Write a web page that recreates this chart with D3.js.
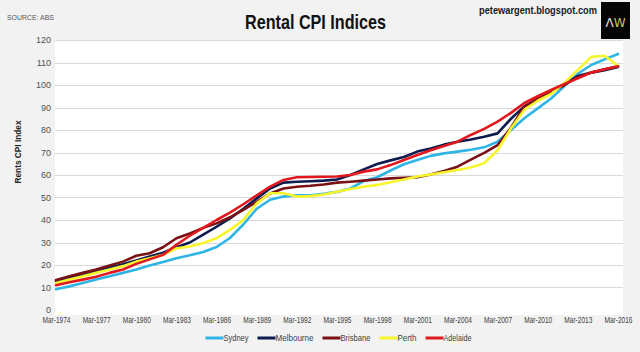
<!DOCTYPE html>
<html>
<head>
<meta charset="utf-8">
<script src="https://cdn.jsdelivr.net/npm/d3@7"></script>
<style>
  html, body { margin: 0; padding: 0; background: #f2f2f2; }
  svg { display: block; }
  .narrow { font-family: "Liberation Sans Narrow", "Arial Narrow", "Liberation Sans", Arial, sans-serif; }
</style>
</head>
<body>
<svg id="chart" width="640" height="352"></svg>
<script>
// ---- data (annual, March quarter) ----
const years = d3.range(1974, 2017);
const tickYears = [1974,1977,1980,1983,1986,1989,1992,1995,1998,2001,2004,2007,2010,2013,2016];
const yTicks = [0,10,20,30,40,50,60,70,80,90,100,110,120];
const seriesNames = ["Sydney","Melbourne","Brisbane","Perth","Adelaide"];
const sydney = [9.2,10.5,12,13.6,15,16.5,18,19.8,21.3,23,24.3,25.8,28,32,38,45,49,50.4,51,51,51.6,52.5,54,57.3,59,62,64.8,66.7,68.5,69.6,70.4,71.2,72.3,74.8,80,85.2,89.6,94,99.5,105,108.9,111.4,113.8];
const melbourne = [12.8,14.3,15.8,17.3,18.8,20.3,22,23.8,25.5,27.9,30,33.5,37,40.7,45,49.6,54,56.6,57,57.2,57.5,58,60,62.5,64.9,66.5,68,70.4,71.8,73.5,74.8,75.8,77,78.5,85,90.5,93.5,96.8,100.3,104,105.5,106.6,108];
const brisbane = [13.3,15,16.5,18,19.8,21.5,24.1,25.2,27.9,31.9,34,36.5,38.5,41.2,44.5,48.1,51.8,54,54.8,55.2,55.8,56.6,57,57.5,58,58.5,58.8,59,60.2,61.8,63.7,66.8,69.8,73.3,81,90.5,94,97,100,103.5,105.5,107,108.3];
const perth = [12,13.5,15,16.5,18,19.5,21.5,23,24.5,27.4,28.2,29.8,31.9,35.6,40,47.4,51.9,51.9,50.4,50.6,51.3,52.6,53.8,54.8,55.6,56.8,58,59.3,60.2,61.2,62.2,63.3,65.2,71,80.7,89,93,96,101,106.7,112.5,113,108.5];
const adelaide = [11,12.3,13.5,14.8,16.5,18,20.5,22.5,24.5,29,33,36.5,40,43.3,47,51,54.8,57.8,59,59.1,59.2,59.3,60,61.5,62.5,64.4,66.7,68.9,71,72.9,74.8,77.8,80.5,83.7,87.6,92,95,97.8,100.5,103,105.5,107,108.3];
const seriesValues = [sydney, melbourne, brisbane, perth, adelaide];
const seriesColors = ["#2fb4e6","#0d1b4e","#7a1114","#f8f52c","#e1191f"];

// ---- layout ----
const svg = d3.select("#chart");
const x = d3.scaleLinear().domain([1974, 2016]).range([56, 618]);
const y = d3.scaleLinear().domain([0, 120]).range([310, 40]);

// plot background
svg.append("rect").attr("x", 55).attr("y", 40).attr("width", 568).attr("height", 275).attr("fill", "#ffffff");

// gridlines
svg.append("g").selectAll("line").data(yTicks.filter(d => d > 0)).join("line")
  .attr("x1", 55).attr("x2", 623)
  .attr("y1", d => Math.round(y(d)) + 0.5).attr("y2", d => Math.round(y(d)) + 0.5)
  .attr("stroke", "#d9d9d9").attr("stroke-width", 1);

// y axis
const yAxis = svg.append("g").attr("transform", "translate(51,0)")
  .call(d3.axisLeft(y).tickValues(yTicks).tickSize(0).tickPadding(0));
yAxis.select(".domain").remove();
yAxis.selectAll("text").attr("class", "narrow").attr("font-size", 9).attr("fill", "#505050");

// x axis
const xAxis = svg.append("g").attr("transform", "translate(0,317)")
  .call(d3.axisBottom(x).tickValues(tickYears).tickSize(0).tickPadding(0).tickFormat(d => "Mar-" + d));
xAxis.select(".domain").remove();
xAxis.selectAll("text").attr("class", "narrow").attr("font-size", 8.5).attr("fill", "#404040")
  .attr("dy", "0.71em").attr("textLength", 28).attr("lengthAdjust", "spacingAndGlyphs");

// lines
const line = d3.line().x((d, i) => x(years[i])).y(d => y(d));
svg.append("g").selectAll("path").data(seriesValues).join("path")
  .attr("d", d => line(d))
  .attr("fill", "none")
  .attr("stroke", (d, i) => seriesColors[i])
  .attr("stroke-width", 2.6)
  .attr("stroke-linejoin", "round")
  .attr("stroke-linecap", "round");

// y axis title
svg.append("text").attr("transform", "translate(21,152) rotate(-90)")
  .attr("text-anchor", "middle").attr("font-family", "Liberation Sans, Arial, sans-serif")
  .attr("font-weight", "bold").attr("font-size", 9).attr("fill", "#222")
  .attr("textLength", 63).attr("lengthAdjust", "spacingAndGlyphs")
  .text("Rents CPI Index");

// title
svg.append("text").attr("x", 315.5).attr("y", 29).attr("text-anchor", "middle")
  .attr("font-family", "Liberation Sans, Arial, sans-serif").attr("font-weight", "bold")
  .attr("font-size", 21).attr("fill", "#111")
  .attr("textLength", 141).attr("lengthAdjust", "spacingAndGlyphs")
  .text("Rental CPI Indices");

// source
svg.append("text").attr("x", 7).attr("y", 19.5)
  .attr("font-family", "Liberation Sans, Arial, sans-serif").attr("font-size", 7).attr("fill", "#555")
  .attr("textLength", 47).attr("lengthAdjust", "spacingAndGlyphs")
  .text("SOURCE: ABS");

// blog
svg.append("text").attr("x", 479).attr("y", 13.5)
  .attr("font-family", "Liberation Sans, Arial, sans-serif").attr("font-weight", "bold")
  .attr("font-size", 10).attr("fill", "#1a1a1a")
  .attr("textLength", 118).attr("lengthAdjust", "spacingAndGlyphs")
  .text("petewargent.blogspot.com");

// logo
svg.append("rect").attr("x", 601).attr("y", 2).attr("width", 29).attr("height", 37).attr("fill", "#050505");
const logo = svg.append("text").attr("x", 615.5).attr("y", 27).attr("text-anchor", "middle")
  .attr("font-family", "DejaVu Sans, sans-serif").attr("font-size", 12).attr("font-weight", "normal");
logo.append("tspan").attr("fill", "#e8e8e8").text("Λ");
logo.append("tspan").attr("fill", "#c9c45a").text("W");

// legend (text widths matched to the reference's condensed font)
const legendTextW = [25, 38, 30, 19, 28];
const legend = svg.append("g");
const items = legend.selectAll("g").data(seriesNames).join("g");
items.append("line").attr("x1", 0).attr("x2", 18).attr("y1", 0).attr("y2", 0)
  .attr("stroke", (d, i) => seriesColors[i]).attr("stroke-width", 3);
items.append("text").attr("x", 18).attr("y", 0).attr("dy", "0.35em")
  .attr("class", "narrow").attr("font-size", 9).attr("fill", "#404040")
  .attr("textLength", (d, i) => legendTextW[i]).attr("lengthAdjust", "spacingAndGlyphs")
  .text(d => d);
let cursor = 0;
items.each(function (d, i) {
  d3.select(this).attr("transform", `translate(${cursor},338)`);
  cursor += 18 + legendTextW[i] + 9;
});
const total = cursor - 9;
legend.attr("transform", `translate(${338.5 - total / 2},0)`);
</script>
</body>
</html>
